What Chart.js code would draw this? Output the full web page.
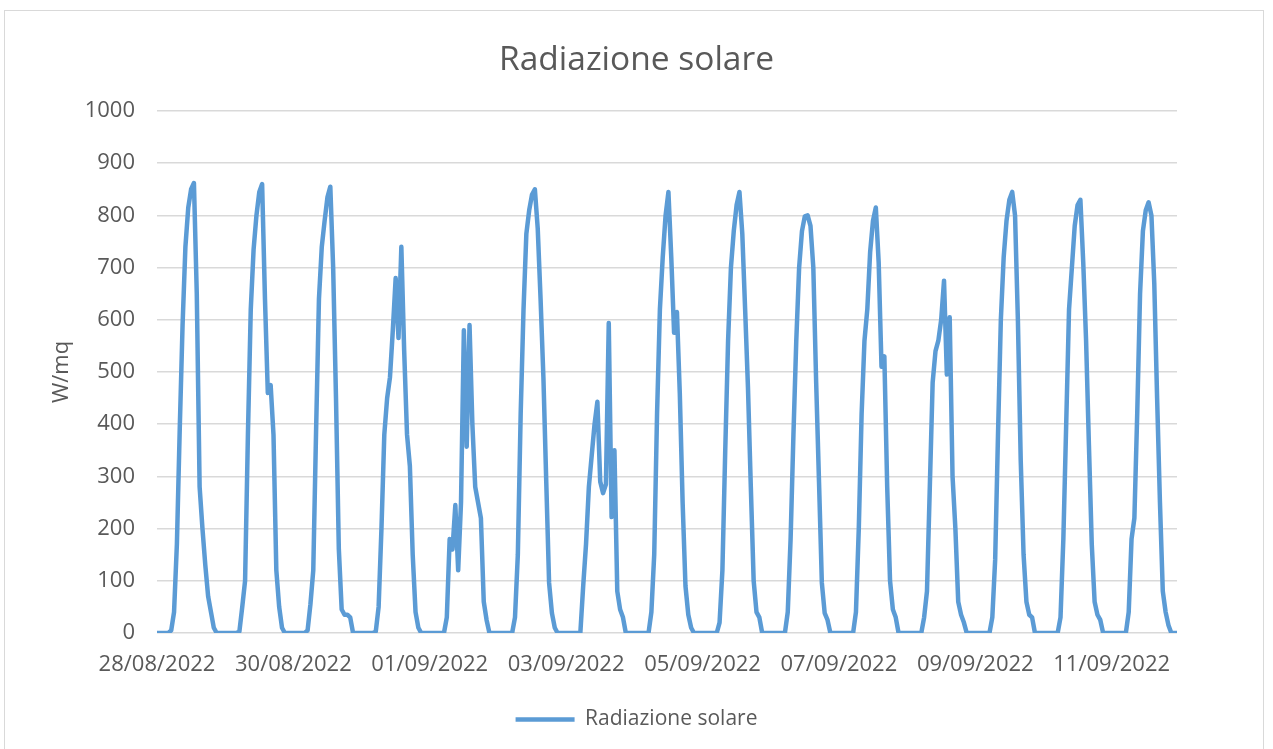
<!DOCTYPE html>
<html>
<head>
<meta charset="utf-8">
<script src="https://cdn.jsdelivr.net/npm/chart.js@4"></script>
<style>
  html, body { margin: 0; padding: 0; background: #fff; }
  #cornice { position: absolute; left: 4px; top: 10px; width: 1258px; height: 800px; border: 1px solid #d9d9d9; }
  #wrap { position: absolute; left: 0; top: 0; width: 1273px; height: 749px; }
</style>
</head>
<body>
<div id="cornice"></div>
<div id="wrap"><canvas id="grafico" width="1273" height="749"></canvas></div>
<script>
// Giorni sull'asse x (un valore ogni ora)
const giorni = ['28/08/2022', '29/08/2022', '30/08/2022', '31/08/2022', '01/09/2022', '02/09/2022', '03/09/2022',
  '04/09/2022', '05/09/2022', '06/09/2022', '07/09/2022', '08/09/2022', '09/09/2022', '10/09/2022', '11/09/2022']

// Radiazione solare oraria (W/mq), ore 0..23 di ogni giorno
const g2808 = [0, 0, 0, 0, 0, 5, 40, 170, 390, 590, 740, 815, 850, 862, 650, 280, 200, 130, 70, 40, 10, 0, 0, 0]
const g2908 = [0, 0, 0, 0, 0, 3, 50, 100, 380, 620, 735, 800, 845, 860, 640, 460, 475, 380, 120, 50, 10, 0, 0, 0]
const g3008 = [0, 0, 0, 0, 0, 5, 55, 120, 390, 640, 740, 790, 835, 855, 700, 450, 160, 45, 35, 35, 30, 0, 0, 0]
const g3108 = [0, 0, 0, 0, 0, 3, 50, 200, 380, 450, 490, 580, 680, 565, 740, 540, 380, 320, 150, 40, 10, 0, 0, 0]
const g0109 = [0, 0, 0, 0, 0, 0, 30, 180, 160, 245, 120, 250, 580, 357, 590, 400, 280, 250, 220, 60, 25, 0, 0, 0]
const g0209 = [0, 0, 0, 0, 0, 0, 30, 150, 420, 620, 765, 810, 840, 850, 775, 640, 490, 290, 96, 38, 10, 0, 0, 0]
const g0309 = [0, 0, 0, 0, 0, 0, 90, 170, 280, 340, 400, 443, 290, 268, 285, 594, 222, 350, 80, 45, 30, 0, 0, 0]
const g0409 = [0, 0, 0, 0, 0, 0, 40, 150, 420, 620, 720, 800, 845, 720, 575, 615, 460, 250, 90, 35, 10, 0, 0, 0]
const g0509 = [0, 0, 0, 0, 0, 0, 20, 120, 350, 560, 700, 770, 820, 845, 765, 620, 470, 280, 100, 40, 30, 0, 0, 0]
const g0609 = [0, 0, 0, 0, 0, 0, 40, 180, 380, 560, 700, 770, 798, 800, 780, 700, 480, 290, 96, 38, 25, 0, 0, 0]
const g0709 = [0, 0, 0, 0, 0, 0, 40, 200, 420, 560, 620, 730, 790, 815, 710, 510, 530, 280, 100, 45, 30, 0, 0, 0]
const g0809 = [0, 0, 0, 0, 0, 0, 30, 80, 280, 480, 540, 560, 600, 675, 495, 605, 300, 200, 60, 35, 20, 0, 0, 0]
const g0909 = [0, 0, 0, 0, 0, 0, 30, 140, 380, 600, 720, 790, 830, 845, 800, 600, 330, 150, 60, 35, 30, 0, 0, 0]
const g1009 = [0, 0, 0, 0, 0, 0, 30, 180, 400, 620, 700, 780, 820, 830, 710, 560, 360, 170, 60, 35, 25, 0, 0, 0]
const g1109 = [0, 0, 0, 0, 0, 0, 40, 180, 220, 420, 650, 770, 810, 825, 800, 670, 450, 250, 80, 40, 15, 0, 0, 0]

const giornate = [g2808, g2908, g3008, g3108, g0109, g0209, g0309, g0409, g0509, g0609, g0709, g0809, g0909, g1009, g1109]

// Tick asse y
const tickY = [0, 100, 200, 300, 400, 500, 600, 700, 800, 900, 1000]

const punti = []
giornate.forEach((giorno, d) => {
  giorno.forEach((v, h) => punti.push({ x: d * 24 + h, y: v }))
})

const grigio = '#595959'

let ctx = document.getElementById('grafico')

new Chart(ctx, {
  type: 'line',
  data: {
    datasets: [{
      label: 'Radiazione solare',
      data: punti,
      borderColor: '#5b9bd5',
      backgroundColor: '#5b9bd5',
      borderWidth: 4.5,
      borderJoinStyle: 'round',
      borderCapStyle: 'round',
      pointRadius: 0,
      tension: 0,
      yAxisID: 'y',
    }]
  },
  options: {
    responsive: false,
    animation: false,
    layout: {
      padding: { left: 0, right: 0, top: 0, bottom: 9 }
    },
    plugins: {
      title: {
        display: true,
        text: 'Radiazione solare',
        color: grigio,
        font: { family: 'Open Sans', size: 33.5, weight: 'normal' },
        padding: { top: 40.5, bottom: 30.3 },
      },
      legend: {
        display: true,
        position: 'bottom',
        labels: {
          color: grigio,
          font: { family: 'Open Sans', size: 21 },
          usePointStyle: true,
          pointStyle: 'line',
          pointStyleWidth: 59,
          padding: 10,
        }
      },
      tooltip: { enabled: false }
    },
    scales: {
      x: {
        type: 'linear',
        min: 0,
        max: giornate.length * 24 - 1,
        grid: { display: false, drawTicks: false },
        border: { display: false },
        ticks: {
          stepSize: 48,
          includeBounds: false,
          autoSkip: false,
          maxRotation: 0,
          padding: 19,
          color: grigio,
          font: { family: 'Open Sans', size: 22 },
          callback: v => (v % 24 === 0 ? giorni[v / 24] : '')
        },
        afterFit: s => { s.height = 66 }
      },
      y: {
        position: 'left',
        min: 0,
        max: 1000,
        grid: { color: '#d9d9d9', lineWidth: 1.5, drawTicks: false },
        border: { display: false },
        ticks: {
          stepSize: 100,
          padding: 22,
          color: grigio,
          font: { family: 'Open Sans', size: 22 },
          callback: v => (tickY.includes(v) ? v : '')
        },
        title: {
          display: true,
          text: 'W/mq',
          color: grigio,
          font: { family: 'Open Sans', size: 22 },
          padding: { top: 49, bottom: 0 }
        },
        afterFit: s => { s.width = 157 }
      },
      destra: {
        position: 'right',
        grid: { display: false },
        border: { display: false },
        ticks: { display: false },
        afterFit: s => { s.width = 96 }
      }
    }
  }
});
</script>
</body>
</html>
